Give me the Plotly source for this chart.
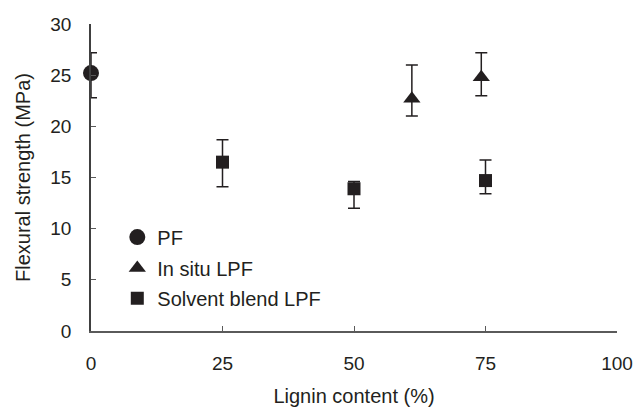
import plotly.graph_objects as go

# Data
pf_x = [0]
pf_y = [25.2]
pf_up = [2.0]
pf_down = [2.4]

insitu_x = [61.0, 74.2]
insitu_y = [22.7, 24.8]
insitu_up = [3.3, 2.4]
insitu_down = [1.7, 1.8]

solvent_x = [25, 50, 75]
solvent_y = [16.5, 13.9, 14.7]
solvent_up = [2.2, 0.7, 2.0]
solvent_down = [2.4, 1.9, 1.3]

x_ticks = [0, 25, 50, 75, 100]
y_ticks = [0, 5, 10, 15, 20, 25, 30]

INK = "#231f20"
AXIS = "#5a5a5a"
FONT = "Liberation Sans, Arial, sans-serif"


def err(up, down):
    return dict(type="data", symmetric=False, array=up, arrayminus=down,
                color=INK, thickness=1.5, width=6)


fig = go.Figure()
fig.add_trace(go.Scatter(x=pf_x, y=pf_y, mode="markers", name="PF",
                         marker=dict(symbol="circle", size=16, color=INK),
                         error_y=err(pf_up, pf_down), cliponaxis=False,
                         legend="legend"))
fig.add_trace(go.Scatter(x=insitu_x, y=insitu_y, mode="markers", name="In situ LPF",
                         marker=dict(symbol="triangle-up", size=15, color=INK),
                         error_y=err(insitu_up, insitu_down), cliponaxis=False,
                         legend="legend2"))
fig.add_trace(go.Scatter(x=solvent_x, y=solvent_y, mode="markers", name="Solvent blend LPF",
                         marker=dict(symbol="square", size=13, color=INK),
                         error_y=err(solvent_up, solvent_down), cliponaxis=False,
                         legend="legend3"))

leg_common = dict(font=dict(family=FONT, size=20, color=INK),
                  bgcolor="rgba(0,0,0,0)", borderwidth=0,
                  xanchor="left", yanchor="middle", x=0.05)

fig.update_layout(
    width=639, height=409,
    margin=dict(l=91, r=22, t=24, b=78, autoexpand=False),
    paper_bgcolor="white", plot_bgcolor="white",
    showlegend=True,
    font=dict(family=FONT, size=19, color=INK),
    legend=dict(**leg_common, y=0.306),
    legend2=dict(**leg_common, y=0.205),
    legend3=dict(**leg_common, y=0.107),
    xaxis=dict(range=[0, 100], tickvals=x_ticks, ticks="inside", ticklen=5,
               tickcolor=AXIS, tickwidth=1, showline=True, linecolor=AXIS,
               linewidth=1.5, showgrid=False, zeroline=False, automargin=False,
               ticklabelstandoff=14, tickfont=dict(family=FONT, size=19, color=INK),
               title=dict(text="Lignin content (%)", standoff=16,
                          font=dict(family=FONT, size=20, color=INK))),
    yaxis=dict(range=[0, 30], tickvals=y_ticks, ticks="inside", ticklen=5,
               tickcolor=AXIS, tickwidth=1, showline=True, linecolor="#404040",
               linewidth=1.5, showgrid=False, zeroline=False, automargin=False,
               ticklabelstandoff=14, tickfont=dict(family=FONT, size=19, color=INK),
               title=dict(text="Flexural strength (MPa)", standoff=14,
                          font=dict(family=FONT, size=20, color=INK))),
)

fig.write_html("out.html")
